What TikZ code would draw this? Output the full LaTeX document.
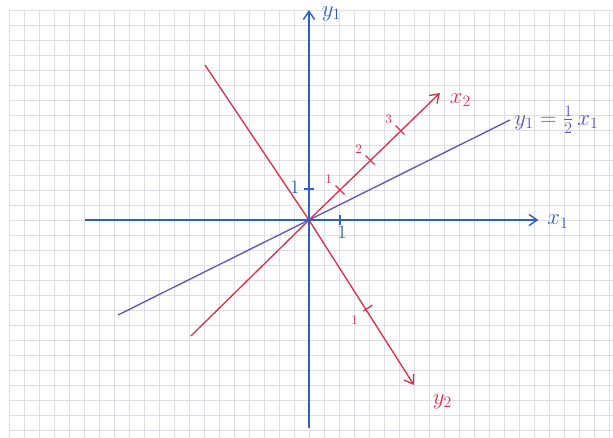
\documentclass[tikz,border=0pt]{standalone}
\usetikzlibrary{arrows.meta}
\definecolor{axisblue}{RGB}{45,95,195}
\definecolor{penred}{RGB}{222,45,75}
\definecolor{penpurple}{RGB}{95,80,195}
\definecolor{gridgray}{RGB}{222,222,230}

\begin{document}
\begin{tikzpicture}[x=4mm, y=4mm,
  axis/.style={axisblue, line width=1.1pt, -{Straight Barb[length=2.2mm, width=3mm]}},
  redaxis/.style={penred, line width=1pt, -{Straight Barb[length=2.2mm, width=3mm]}},
  redline/.style={penred, line width=1pt},
  graph/.style={penpurple, line width=1pt},
  lbl/.style={font=\LARGE},
  ticklbl/.style={font=\normalsize, penred},
]
  \useasboundingbox (-20.6,-14.53) rectangle (20.27,14.67);
  \draw[gridgray, line width=0.5pt, step=4mm] (-20,-14.53) grid (20.27,14);

  \coordinate (o) at (0,0);
  \coordinate (xs) at (-14.93,0);
  \coordinate (xe) at (15.3,0);
  \coordinate (ys) at (0,-13.87);
  \coordinate (ye) at (0,14);
  \coordinate (as) at (-7.87,-7.73);
  \coordinate (ae) at (8.73,8.47);
  \coordinate (bs) at (-6.93,10.33);
  \coordinate (be) at (7,-11);
  \coordinate (ps) at (-12.73,-6.33);
  \coordinate (pe) at (13.4,6.67);

  \node[lbl, axisblue] (x1) at (16.6,-0.1) {$x_1$};
  \node[lbl, axisblue] (y1) at (1.5,13.75) {$y_1$};
  \node[lbl, penred] (x2) at (10.1,8) {$x_2$};
  \node[lbl, penred] (y2) at (8.9,-12.1) {$y_2$};
  \node[lbl, penpurple] (eq) at (16.5,6.7) {$y_1=\frac{1}{2}\,x_1$};

  \draw[graph] (ps) -- (pe);
  \draw[redline] (bs) -- (o);
  \draw[redaxis] (o) -- (be);
  \draw[redline] (as) -- (o);
  \draw[redaxis] (o) -- (ae);
  \draw[axis] (xs) -- (xe);
  \draw[axis] (ys) -- (ye);

  \coordinate (u1) at (2.07,0);
  \coordinate (v1) at (0,2.07);
  \draw[axisblue, line width=1pt] (u1) ++(0,-.35) -- ++(0,.7);
  \draw[axisblue, line width=1pt] (v1) ++(-.35,0) -- ++(.7,0);
  \node[font=\Large, axisblue] (u1l) at (2.2,-0.85) {$1$};
  \node[font=\Large, axisblue] (v1l) at (-0.95,2.15) {$1$};

  \foreach \k in {1,2,3} {
    \coordinate (t\k) at (2*\k+.07,2*\k);
    \draw[redline] (t\k) ++(-.3,.3) -- ++(.6,-.6);
    \node[ticklbl] (t\k l) at ([shift={(-.75,.7)}]t\k) {$\k$};
  }
  \coordinate (w1) at (3.93,-5.87);
  \draw[redline] (w1) ++(-.3,-.2) -- ++(.6,.4);
  \node[ticklbl] (w1l) at (3.05,-6.7) {$1$};
\end{tikzpicture}
\end{document}
